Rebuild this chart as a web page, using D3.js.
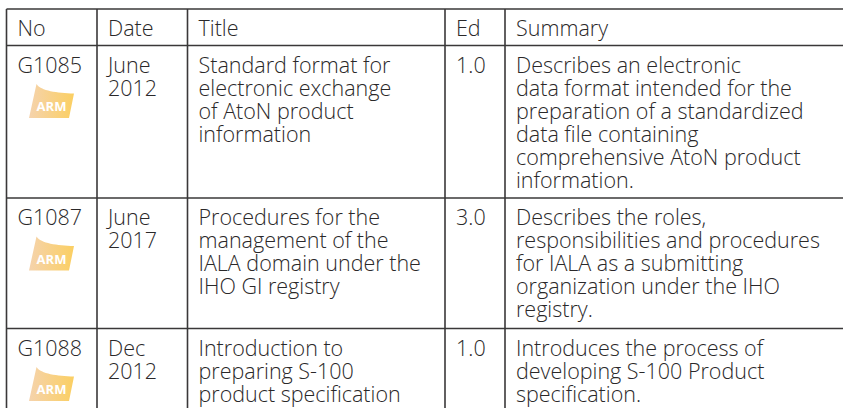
<!DOCTYPE html>
<html>
<head>
<meta charset="utf-8">
<script src="https://cdn.jsdelivr.net/npm/d3@7"></script>
<style>
  html, body { margin: 0; padding: 0; background: #fff; overflow: hidden; }
  text { font-family: "Open Sans", sans-serif; font-weight: 300; fill: #2a2829; }
</style>
</head>
<body>
<svg id="chart" width="843" height="408"></svg>
<script>
const columns = ['No', 'Date', 'Title', 'Ed', 'Summary'];
const numbers = ['G1085', 'G1087', 'G1088'];
const dates = [['June', '2012'], ['June', '2017'], ['Dec', '2012']];
const titles = [
  ['Standard format for', 'electronic exchange', 'of AtoN product', 'information'],
  ['Procedures for the', 'management of the', 'IALA domain under the', 'IHO GI registry'],
  ['Introduction to', 'preparing S-100', 'product specification']
];
const editions = ['1.0', '3.0', '1.0'];
const summaries = [
  ['Describes an electronic', 'data format intended for the', 'preparation of a standardized', 'data file containing', 'comprehensive AtoN product', 'information.'],
  ['Describes the roles,', 'responsibilities and procedures', 'for IALA as a submitting', 'organization under the IHO', 'registry.'],
  ['Introduces the process of', 'developing S-100 Product', 'specification.']
];
const badge = 'ARM';

const colEdges = [6.5, 97, 187.5, 445, 505, 843];
const rowEdges = [9, 45.5, 198, 328.5, 408];
const lineHeight = 23;
const fontSize = 21.5;
const padX = 11;

const svg = d3.select('#chart');
const defs = svg.append('defs');
const grad = defs.append('linearGradient').attr('id', 'armFill');
grad.append('stop').attr('offset', '0%').attr('stop-color', '#f5d3ad');
grad.append('stop').attr('offset', '100%').attr('stop-color', '#fbcf62');

// grid
svg.selectAll('.vline').data(colEdges.slice(0, 5)).join('line')
  .attr('class', 'vline')
  .attr('x1', d => d).attr('x2', d => d)
  .attr('y1', rowEdges[0]).attr('y2', rowEdges[4])
  .attr('stroke', '#3a3839').attr('stroke-width', 1.6);
svg.selectAll('.hline').data(rowEdges.slice(0, 4)).join('line')
  .attr('class', 'hline')
  .attr('x1', colEdges[0]).attr('x2', colEdges[5])
  .attr('y1', d => d).attr('y2', d => d)
  .attr('stroke', '#3a3839').attr('stroke-width', 1.6);

function cell(x, y, lines) {
  const t = svg.append('text').attr('font-size', fontSize);
  t.selectAll('tspan').data(lines).join('tspan')
    .attr('x', x)
    .attr('y', (d, i) => y + i * lineHeight)
    .text(d => d);
}

columns.forEach((c, i) => cell(colEdges[i] + padX, 36, [c]));

numbers.forEach((n, r) => {
  const top = rowEdges[r + 1];
  const base = top + 27;
  cell(colEdges[0] + padX, base, [n]);
  cell(colEdges[1] + padX, base, dates[r]);
  cell(colEdges[2] + padX, base, titles[r]);
  cell(colEdges[3] + padX, base, [editions[r]]);
  cell(colEdges[4] + padX, base, summaries[r]);

  const g = svg.append('g').attr('transform', `translate(29, ${top + 38.5})`);
  g.append('path')
    .attr('d', 'M7.5,0 C12,7 28,9 45,9.5 L40,34 L0,34 Z')
    .attr('fill', 'url(#armFill)');
  g.append('text').attr('x', 22.5).attr('y', 27)
    .attr('text-anchor', 'middle')
    .attr('font-size', 13).style('font-weight', 700)
    .style('fill', '#fff')
    .text(badge);
});
</script>
</body>
</html>
